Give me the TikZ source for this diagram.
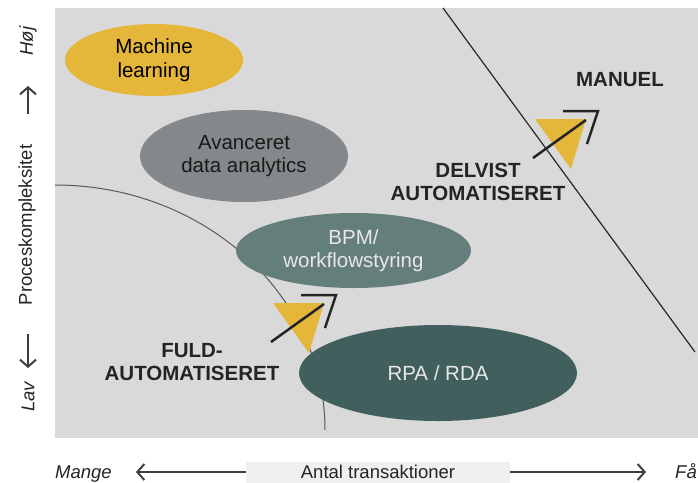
\documentclass[tikz,border=0pt]{standalone}
\usepackage{fontspec}
\setmainfont{Liberation Sans}
\usetikzlibrary{shapes.geometric,arrows.meta}
\definecolor{bggrey}{HTML}{D9D9D9}
\definecolor{mlyellow}{HTML}{E4B63A}
\definecolor{advgrey}{HTML}{84888A}
\definecolor{bpmteal}{HTML}{647E7B}
\definecolor{rpateal}{HTML}{405F5D}
\definecolor{inkdark}{HTML}{222426}
\definecolor{arrowdark}{HTML}{3A3F44}
\definecolor{labelbg}{HTML}{EFEFEF}
\definecolor{lighttext}{HTML}{E8E8E8}
\tikzset{
  blob/.style={ellipse, inner sep=0pt, align=center,
    font=\fontsize{20.5}{23.5}\selectfont},
  zone/.style={align=center, text=inkdark, inner sep=0pt,
    font=\fontsize{20.5}{23}\selectfont\bfseries},
  axislabel/.style={text=inkdark, inner sep=0pt, font=\fontsize{18.5}{20}\selectfont},
  axisarrow/.style={draw=arrowdark, line width=2pt,
    -{Straight Barb[length=7pt,width=16pt,line width=2pt]}},
  autoicon/.pic={
    \fill[mlyellow] (0,0) -- (51,0) -- (36,50) -- cycle;
    \draw[inkdark, line width=2.5pt] (-2,39) -- (51,1);
    \draw[inkdark, line width=2.5pt, line join=miter] (28,-8) -- (63,-8) -- (52,25);
  }
}
\begin{document}
\begin{tikzpicture}[x=1pt,y=-1pt]
\useasboundingbox (0,0) rectangle (698,482);
\fill[bggrey] (55,8) rectangle (698,438);
% boundary curve (full automation)
\draw[draw=black!65, line width=1pt] (55,185) arc[start angle=-90, end angle=0, x radius=270, y radius=245];
% diagonal boundary (manual)
\draw[draw=black!85, line width=1.2pt] (443,8) -- (695,352);
% technology ellipses
\node[blob, fill=mlyellow, text=black, minimum width=178, minimum height=72] (ml) at (154,60) {Machine\\learning};
\node[blob, fill=advgrey, text=black!90, minimum width=208, minimum height=92] (ada) at (244,156) {Avanceret\\data analytics};
\node[blob, fill=bpmteal, text=lighttext, minimum width=235, minimum height=75] (bpm) at (353.5,250.5) {BPM/\\workflowstyring};
\node[blob, fill=rpateal, text=lighttext, minimum width=278, minimum height=96] (rpa) at (438,373) {RPA / RDA};
% icons
\pic at (535,119) {autoicon};
\pic at (273,303) {autoicon};
% zone labels
\node[zone, anchor=base] (manuel) at (620,86) {MANUEL};
\node[zone] (delvist) at (478,182) {DELVIST\\AUTOMATISERET};
\node[zone] (fuld) at (192,362) {FULD-\\AUTOMATISERET};
% y axis
\node[axislabel, rotate=90, font=\fontsize{18.5}{20}\selectfont\itshape] (hoej) at (28,41) {Høj};
\coordinate (upS) at (28,114);
\coordinate (upE) at (28,86);
\draw[axisarrow] (upS) -- (upE);
\node[axislabel, rotate=90] (proc) at (27,225) {Proceskompleksitet};
\coordinate (dnS) at (28,334);
\coordinate (dnE) at (28,368);
\draw[axisarrow] (dnS) -- (dnE);
\node[axislabel, rotate=90, font=\fontsize{18.5}{20}\selectfont\itshape] (lav) at (28,397) {Lav};
% x axis
\node[axislabel, fill=labelbg, minimum width=264, minimum height=22, anchor=north] (antal) at (378,462) {};
\node[axislabel, anchor=base] (antaltxt) at (378,478) {Antal transaktioner};
\node[axislabel, anchor=base west, font=\fontsize{18.5}{20}\selectfont\itshape] (mange) at (55,478) {Mange};
\node[axislabel, anchor=base west, font=\fontsize{18.5}{20}\selectfont\itshape] (faa) at (675,478) {Få};
\draw[axisarrow] (antal.west |- 0,472) -- (136,472);
\draw[axisarrow] (antal.east |- 0,472) -- (646,472);
\end{tikzpicture}
\end{document}
